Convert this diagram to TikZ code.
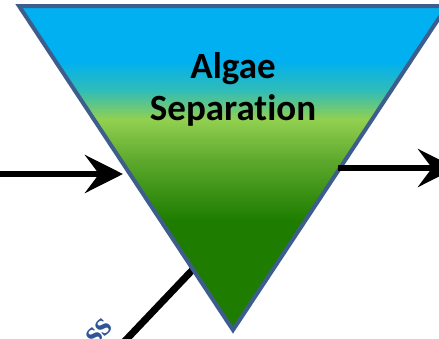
\documentclass[tikz,border=0pt]{standalone}
\usepackage{fontspec}
\setmainfont[Ligatures=NoCommon]{Carlito}
\newfontfamily\serifbl{Liberation Serif}
\usetikzlibrary{arrows.meta}
\definecolor{skyb}{HTML}{00B0F0}
\definecolor{tealb}{HTML}{30BCB8}
\definecolor{litg}{HTML}{92D050}
\definecolor{midg}{HTML}{5CA82C}
\definecolor{darkg}{HTML}{1E7D00}
\definecolor{edgeb}{HTML}{3D5E8C}
\definecolor{txtb}{HTML}{2F5597}
\pgfdeclareverticalshading{algaeshade}{100bp}{color(0bp)=(darkg); color(42bp)=(darkg); color(51bp)=(midg); color(57.5bp)=(litg); color(62bp)=(tealb); color(66.5bp)=(skyb); color(100bp)=(skyb)}
\tikzset{
  flow/.style={line width=6pt, -{Stealth[length=38pt, width=38pt, inset=14pt]}},
  feed/.style={line width=7pt},
  tri/.style={draw=edgeb, line width=4pt, shading=algaeshade, line join=miter},
  lbl/.style={font=\bfseries\fontsize{37}{42}\selectfont, align=center, text=black}
}
\begin{document}
\begin{tikzpicture}[x=1pt,y=-1pt]
\useasboundingbox (0,0) rectangle (439,338);
\clip (0,0) rectangle (439,338);
\coordinate (tl) at (19,6);
\coordinate (tr) at (447,6);
\coordinate (bt) at (233,330);
\coordinate (feedin) at (123,343);
\coordinate (feedend) at (200,262);
\draw[feed] (feedin) -- (feedend);
\node[rotate=45, text=txtb, font=\serifbl\bfseries\fontsize{34}{34}\selectfont, anchor=base east, inner sep=0pt] (biom) at (114,328) {ss};
\path[tri] (tl) -- (tr) -- (bt) -- cycle;
\node[lbl] (title) at (233,89) {Algae\\Separation};
\coordinate (inl) at (0,174);
\coordinate (intip) at (123,174);
\draw[flow] (inl) -- (intip);
\coordinate (outs) at (338,168);
\coordinate (outtip) at (456,168);
\draw[flow] (outs) -- (outtip);
\end{tikzpicture}
\end{document}
